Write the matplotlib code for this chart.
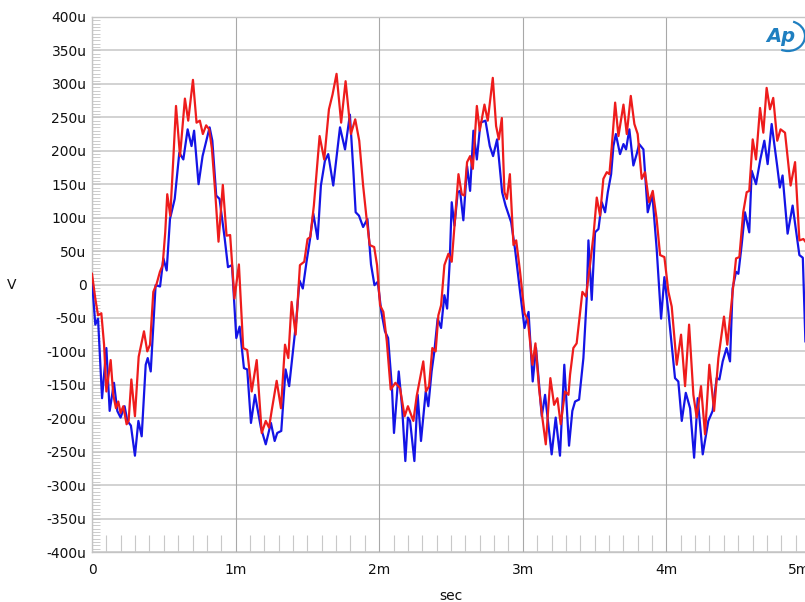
import numpy as np
import matplotlib
matplotlib.use('Agg')
import matplotlib.pyplot as plt
from matplotlib.patches import Arc
from matplotlib.ticker import FixedLocator, MultipleLocator

# ------------------------------ Scope capture data -----------------------------------

# Time in ms, amplitude in microvolts
t_red = [0.000, 0.023, 0.042, 0.065, 0.084, 0.100, 0.130, 0.148, 0.167, 0.183,
         0.199, 0.218, 0.241, 0.255, 0.274, 0.299, 0.325, 0.362, 0.385, 0.404,
         0.427, 0.450, 0.473, 0.492, 0.510, 0.524, 0.545, 0.566, 0.585, 0.613,
         0.647, 0.670, 0.703, 0.728, 0.751, 0.772, 0.795, 0.816, 0.835, 0.858,
         0.881, 0.911, 0.937, 0.962, 0.992, 1.023, 1.053, 1.081, 1.112, 1.147,
         1.182, 1.210, 1.233, 1.251, 1.286, 1.316, 1.344, 1.367, 1.390, 1.418,
         1.448, 1.478, 1.501, 1.520, 1.545, 1.585, 1.617, 1.650, 1.675, 1.703,
         1.735, 1.766, 1.803, 1.833, 1.861, 1.888, 1.911, 1.934, 1.965, 1.985,
         2.006, 2.029, 2.053, 2.080, 2.113, 2.145, 2.177, 2.200, 2.238, 2.261,
         2.307, 2.326, 2.347, 2.370, 2.393, 2.412, 2.431, 2.454, 2.482, 2.505,
         2.528, 2.552, 2.575, 2.593, 2.612, 2.633, 2.652, 2.680, 2.700, 2.733,
         2.756, 2.791, 2.814, 2.833, 2.854, 2.872, 2.889, 2.910, 2.935, 2.954,
         2.981, 3.012, 3.035, 3.067, 3.088, 3.113, 3.136, 3.160, 3.192, 3.218,
         3.241, 3.264, 3.294, 3.318, 3.329, 3.352, 3.375, 3.399, 3.415, 3.440,
         3.468, 3.492, 3.515, 3.538, 3.561, 3.585, 3.603, 3.620, 3.643, 3.666,
         3.701, 3.724, 3.752, 3.777, 3.800, 3.828, 3.851, 3.879, 3.905, 3.932,
         3.956, 3.986, 4.014, 4.037, 4.072, 4.102, 4.130, 4.158, 4.188, 4.211,
         4.241, 4.269, 4.299, 4.332, 4.362, 4.401, 4.424, 4.466, 4.485, 4.508,
         4.535, 4.559, 4.577, 4.601, 4.624, 4.652, 4.675, 4.698, 4.721, 4.744,
         4.772, 4.795, 4.826, 4.865, 4.896, 4.926, 4.954, 4.975]
v_red = [16, -21, -46, -43, -90, -160, -113, -165, -185, -175,
         -192, -182, -209, -204, -142, -197, -108, -70, -100, -90,
         -11, 1, 19, 29, 78, 135, 103, 187, 267, 192,
         278, 245, 306, 242, 245, 225, 238, 232, 203, 138,
         64, 149, 73, 74, -21, 30, -95, -98, -160, -113,
         -222, -204, -214, -189, -144, -185, -90, -110, -26, -75,
         29, 34, 68, 71, 118, 222, 187, 262, 284, 315,
         242, 304, 225, 247, 215, 148, 101, 59, 56, 29,
         -31, -41, -85, -157, -147, -155, -197, -182, -204, -167,
         -115, -160, -152, -95, -100, -46, -31, 29, 46, 34,
         98, 165, 135, 133, 183, 192, 173, 267, 230, 269,
         245, 309, 237, 217, 249, 138, 128, 165, 59, 66,
         19, -43, -53, -120, -88, -155, -199, -239, -140, -180,
         -170, -209, -160, -165, -135, -95, -88, -41, -11, -18,
         29, 73, 130, 103, 158, 168, 165, 207, 272, 222,
         269, 225, 282, 240, 225, 158, 168, 123, 140, 98,
         44, 41, -11, -33, -120, -75, -152, -60, -165, -199,
         -152, -224, -120, -189, -110, -48, -90, -1, 39, 41,
         108, 138, 140, 217, 187, 264, 227, 294, 262, 279,
         215, 232, 227, 148, 183, 66, 68, 62]

t_blue = [0.000, 0.023, 0.042, 0.070, 0.100, 0.123, 0.153, 0.176, 0.199, 0.227,
          0.246, 0.271, 0.299, 0.323, 0.346, 0.374, 0.388, 0.409, 0.443, 0.474,
          0.497, 0.520, 0.543, 0.576, 0.608, 0.636, 0.666, 0.693, 0.711, 0.742,
          0.770, 0.819, 0.838, 0.865, 0.888, 0.924, 0.947, 0.975, 1.005, 1.028,
          1.058, 1.081, 1.107, 1.135, 1.176, 1.210, 1.246, 1.272, 1.290, 1.318,
          1.348, 1.373, 1.422, 1.445, 1.468, 1.494, 1.517, 1.541, 1.571, 1.594,
          1.622, 1.645, 1.680, 1.727, 1.762, 1.796, 1.820, 1.836, 1.859, 1.888,
          1.918, 1.943, 1.967, 1.990, 2.015, 2.040, 2.062, 2.089, 2.103, 2.136,
          2.160, 2.182, 2.200, 2.215, 2.245, 2.268, 2.291, 2.324, 2.342, 2.365,
          2.384, 2.407, 2.431, 2.454, 2.473, 2.491, 2.505, 2.524, 2.547, 2.563,
          2.586, 2.612, 2.633, 2.656, 2.680, 2.705, 2.740, 2.770, 2.793, 2.821,
          2.856, 2.880, 2.919, 2.947, 2.981, 3.012, 3.040, 3.069, 3.092, 3.132,
          3.155, 3.201, 3.229, 3.259, 3.289, 3.322, 3.345, 3.364, 3.392, 3.422,
          3.445, 3.457, 3.480, 3.503, 3.527, 3.550, 3.573, 3.592, 3.615, 3.631,
          3.648, 3.677, 3.701, 3.719, 3.742, 3.770, 3.793, 3.810, 3.840, 3.870,
          3.902, 3.932, 3.963, 3.986, 4.014, 4.060, 4.083, 4.107, 4.135, 4.165,
          4.193, 4.218, 4.253, 4.292, 4.322, 4.350, 4.369, 4.392, 4.419, 4.443,
          4.461, 4.485, 4.501, 4.524, 4.547, 4.577, 4.594, 4.624, 4.654, 4.682,
          4.705, 4.733, 4.771, 4.790, 4.809, 4.844, 4.879, 4.926, 4.950, 4.968]
v_blue = [6, -60, -51, -170, -95, -189, -147, -189, -199, -182,
          -204, -211, -256, -204, -227, -120, -110, -130, -1, -3,
          39, 21, 98, 128, 197, 187, 232, 207, 230, 150,
          192, 235, 215, 133, 128, 69, 26, 29, -80, -63,
          -125, -127, -207, -165, -214, -239, -207, -234, -222, -219,
          -127, -152, -55, 6, -6, 34, 66, 106, 68, 148,
          185, 195, 148, 235, 202, 254, 170, 108, 103, 86,
          98, 30, -1, 4, -41, -70, -80, -155, -222, -130,
          -185, -264, -199, -204, -264, -165, -234, -160, -182, -130,
          -100, -51, -65, -16, -36, 34, 123, 88, 138, 140,
          96, 177, 140, 230, 187, 242, 245, 207, 192, 217,
          138, 118, 93, 51, -11, -65, -41, -145, -95, -197,
          -165, -254, -199, -256, -120, -241, -189, -175, -172, -110,
          -21, 66, -23, 78, 83, 123, 108, 138, 165, 207,
          225, 195, 210, 202, 232, 178, 195, 210, 202, 108,
          135, 54, -51, 11, -41, -140, -145, -204, -162, -185,
          -259, -170, -254, -204, -189, -140, -142, -115, -95, -115,
          -6, 19, 16, 59, 108, 78, 170, 150, 187, 215,
          180, 240, 178, 145, 163, 76, 118, 44, 40, -85]

y_ticks = [-400, -350, -300, -250, -200, -150, -100, -50, 0,
           50, 100, 150, 200, 250, 300, 350, 400]
y_labels = ['-400u', '-350u', '-300u', '-250u', '-200u', '-150u', '-100u', '-50u', '0',
            '50u', '100u', '150u', '200u', '250u', '300u', '350u', '400u']
x_ticks = [0, 1, 2, 3, 4, 5]
x_labels = ['0', '1m', '2m', '3m', '4m', '5m']

# ------------------------------ Figure -----------------------------------

plt.rcParams['font.family'] = ['DejaVu Sans']
W, H = 805, 602
fig = plt.figure(figsize=(W / 100, H / 100), dpi=100)
fig.patch.set_facecolor('white')

# axes run from x=92px to 810px (slightly past the right edge of the canvas)
ax = fig.add_axes([92 / W, (H - 552) / H, (810 - 92) / W, (552 - 17) / H])
ax.set_xlim(0, 5)
ax.set_ylim(-400, 400)

# grid: light horizontal rules, thinner darker verticals
for yv in y_ticks:
    ax.axhline(yv, color='#cfcfcf', lw=1.3, zorder=1)
for xv in x_ticks:
    ax.axvline(xv, color='#a8a8a8', lw=0.8, zorder=1)

ax.plot(t_blue, v_blue, color='#1414e6', lw=1.6, zorder=3, solid_joinstyle='round')
ax.plot(t_red, v_red, color='#ee1c1c', lw=1.6, zorder=4, solid_joinstyle='round')

# ------------------------------ Ticks -----------------------------------

ax.yaxis.set_major_locator(FixedLocator(y_ticks))
ax.set_yticklabels(y_labels)
ax.yaxis.set_minor_locator(MultipleLocator(5))
ax.tick_params(axis='y', which='both', direction='in', length=6, width=0.6,
               color='#c4c4c4', labelsize=10, pad=4, labelcolor='#111111')

ax.xaxis.set_major_locator(FixedLocator(x_ticks))
ax.set_xticklabels(x_labels)
ax.xaxis.set_minor_locator(MultipleLocator(0.1))
ax.tick_params(axis='x', which='major', length=0, labelsize=10, pad=8,
               labelcolor='#111111')
ax.tick_params(axis='x', which='minor', direction='in', length=12, width=0.8,
               color='#c8c8c8')

# last time label sits to the left of its tick so it stays inside the frame
ax.get_xticklabels()[-1].set_horizontalalignment('right')

for side in ['left', 'bottom', 'top']:
    ax.spines[side].set_color('#c4c4c4')
    ax.spines[side].set_linewidth(1.0)
ax.spines['right'].set_visible(False)

# axis titles
fig.text(12 / W, 1 - 285 / H, 'V', ha='center', va='center', fontsize=10, color='#111111')
fig.text(451 / W, 1 - 596 / H, 'sec', ha='center', va='center', fontsize=10, color='#111111')

# ------------------------------ Logo -----------------------------------

logo_color = '#1f7fc0'
fig.text(781 / W, 1 - 36 / H, 'Ap', ha='center', va='center', fontsize=14,
         style='italic', weight='bold', color=logo_color)
fig.patches.append(Arc((788 / W, 1 - 36 / H), 34 / W, 30 / H, angle=0,
                       theta1=-110, theta2=75, color=logo_color, lw=1.6,
                       transform=fig.transFigure, figure=fig))

fig.savefig('out.png', dpi=100, facecolor='white')
